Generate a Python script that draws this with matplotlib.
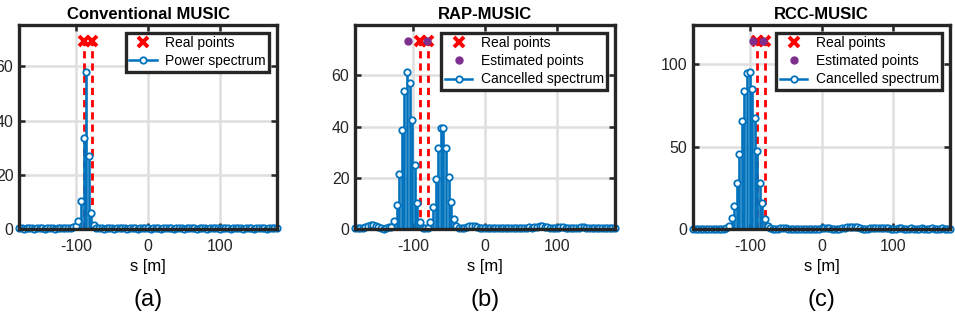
import matplotlib
matplotlib.use("Agg")
import matplotlib.pyplot as plt
from matplotlib.lines import Line2D
import numpy as np

plt.rcParams['font.family'] = ['Liberation Sans', 'DejaVu Sans']
plt.rcParams['axes.unicode_minus'] = False

# sample grid of the search (s in metres)
S_GRID = np.linspace(-180, 180, 101)

# (a) conventional MUSIC power spectrum
A_VALS = ([0.3, 0.2, 0.1, 0.2, 0.3, 0.2, 0.1, 0.2, 0.3, 0.2, 0.1, 0.2, 0.3, 0.2,
           0.1, 0.2, 0.3, 0.2, 0.2, 0.3, 0.4, 0.6]
          + [1.0, 3.1, 10.5, 33.6, 57.9, 27.0, 6.0, 1.5, 0.5]
          + [0.3, 0.2, 0.1, 0.2, 0.3, 0.2, 0.1, 0.2, 0.3, 0.3, 0.2, 0.1, 0.2, 0.3,
             0.2, 0.1, 0.2, 0.3, 0.3, 0.2, 0.1, 0.2, 0.3, 0.2, 0.1, 0.2, 0.3, 0.3,
             0.2, 0.1, 0.2, 0.3, 0.2, 0.1, 0.2, 0.3, 0.3, 0.2, 0.1, 0.2, 0.3, 0.2,
             0.1, 0.2, 0.3, 0.3, 0.2, 0.1, 0.2, 0.3, 0.2, 0.1, 0.2, 0.3, 0.3, 0.2,
             0.1, 0.2, 0.3, 0.2, 0.1, 0.2, 0.3, 0.3, 0.2, 0.1, 0.2, 0.3, 0.2, 0.3])

# (b) RAP-MUSIC cancelled spectrum
B_VALS = ([0.4, 0.3, 0.2, 0.4, 0.8, 1.2, 1.5, 1.5, 1.1, 0.6, 0.2, 0.1, 0.3, 0.6, 0.9]
          + [3.0, 9.5, 21.6, 38.5, 53.8, 61.3, 57.0, 42.7, 24.9, 10.3, 2.6]
          + [0.4, 0.2, 0.5]
          + [2.6, 8.7, 19.6, 31.7, 39.5, 39.5, 31.6, 20.3, 10.4, 4.0, 1.0]
          + [0.3, 0.2, 0.4, 0.8, 1.1, 1.2, 1.0, 0.6, 0.3, 0.2, 0.3, 0.4, 0.5, 0.5,
             0.4, 0.3, 0.2, 0.3, 0.4, 0.5, 0.5, 0.4, 0.3, 0.2, 0.3, 0.4, 0.5, 0.6,
             0.5, 0.7, 0.9, 1.0, 1.0, 0.9, 0.6, 0.3, 0.3, 0.4, 0.5, 0.6, 0.6, 0.5,
             0.4, 0.3, 0.3, 0.4, 0.5, 0.6, 0.6, 0.5, 0.4, 0.3, 0.2, 0.3, 0.4, 0.5,
             0.5, 0.4, 0.3, 0.3, 0.4])

# (c) RCC-MUSIC cancelled spectrum
C_VALS = ([0.2, 0.3, 0.2, 0.1, 0.2, 0.3, 0.2, 0.1, 0.2, 0.3, 0.3, 0.2, 0.3, 0.6]
          + [1.8, 6.5, 14.0, 28.2, 45.7, 65.4, 83.7, 94.5, 95.3, 85.2, 67.5, 47.1,
             28.2, 15.7, 5.9, 1.8]
          + [0.5, 0.3, 0.2, 0.3, 0.4, 0.4, 0.4, 0.3, 0.2, 0.1, 0.2, 0.3, 0.3, 0.2,
             0.1, 0.2, 0.3, 0.3, 0.2, 0.3, 0.4, 0.5, 0.5, 0.4, 0.3, 0.2, 0.2, 0.3,
             0.5, 0.8, 1.1, 1.4, 1.5, 1.3, 1.0, 0.6, 0.3, 0.2, 0.3, 0.4, 0.5, 0.6,
             0.7, 0.8, 0.8, 0.7, 0.5, 0.3, 0.2, 0.3, 0.4, 0.4, 0.3, 0.2, 0.3, 0.4,
             0.3, 0.2, 0.3, 0.4, 0.3, 0.2, 0.3, 0.4, 0.3, 0.2, 0.3, 0.4, 0.3, 0.2,
             0.3])

REAL_POINTS = [-90, -78.5]
EST_POINTS_B = [-106, -80]
EST_POINTS_C = [-96, -82]

TITLES = ["Conventional MUSIC", "RAP-MUSIC", "RCC-MUSIC"]
SPEC_LABELS = ["Power spectrum", "Cancelled spectrum", "Cancelled spectrum"]
PANEL_TAGS = ["(a)", "(b)", "(c)"]
Y_TICKS = [[0, 20, 40, 60], [0, 20, 40, 60], [0, 50, 100]]

BLUE = "#0072BD"
PURPLE = "#7E2F8E"
DARK = "#262626"


def draw_panel(ax, vals, title, spec_label, yticks, est_points=None):
    vals = np.asarray(vals)
    assert len(vals) == len(S_GRID)
    peak = vals.max()
    mark_h = 1.2 * peak

    ax.grid(True, color="#DFDFDF", linewidth=1.8, zorder=0)
    ax.set_axisbelow(True)

    # red dashed guides under the real points
    for p in REAL_POINTS:
        ax.plot([p, p], [0, mark_h], color="red", linestyle=(0, (2.6, 1.8)),
                linewidth=2.0, zorder=2)

    # stem plot
    ax.vlines(S_GRID, 0, vals, color=BLUE, linewidth=1.9, zorder=3)
    ax.plot(S_GRID, vals, "o", color=BLUE, mfc="white", markersize=4.6,
            markeredgewidth=1.3, zorder=4, clip_on=False)

    ax.plot(REAL_POINTS, [mark_h] * len(REAL_POINTS), "x", color="red",
            markersize=6.5, markeredgewidth=2.8, zorder=5)
    handles = [Line2D([], [], marker="x", color="red", linestyle="none",
                      markersize=6.5, markeredgewidth=2.8)]
    labels = ["Real points"]
    if est_points is not None:
        ax.plot(est_points, [mark_h] * len(est_points), ".", color=PURPLE,
                markersize=10, zorder=6)
        handles.append(Line2D([], [], marker=".", color=PURPLE,
                              linestyle="none", markersize=10))
        labels.append("Estimated points")
    handles.append(Line2D([], [], marker="o", color=BLUE, mfc="white",
                          markersize=4.6, markeredgewidth=1.3, linewidth=1.8))
    labels.append(spec_label)

    leg = ax.legend(handles, labels, loc="upper right", fontsize=10,
                    fancybox=False, framealpha=1, edgecolor=DARK,
                    borderaxespad=0.55, handlelength=2.0, handletextpad=0.6,
                    borderpad=0.25, labelspacing=0.3, numpoints=1)
    leg.get_frame().set_linewidth(2.4)
    leg.set_zorder(10)

    ax.set_xlim(-180, 180)
    ax.set_ylim(0, 1.3 * peak)
    ax.set_xticks([-100, 0, 100])
    ax.set_yticks(yticks)
    ax.set_title(title, fontsize=12, fontweight="bold", pad=4)
    ax.set_xlabel("s [m]", fontsize=12, labelpad=4)
    ax.tick_params(direction="in", length=4, width=1.8, top=True, right=True,
                   labelsize=11.5, colors=DARK, pad=7)
    ax.tick_params(axis="y", pad=4)
    for sp in ax.spines.values():
        sp.set_linewidth(2.4)
        sp.set_color(DARK)
        sp.set_zorder(8)


def main():
    fig = plt.figure(figsize=(9.55, 3.18), dpi=100)
    lefts = [19 / 955, 355 / 955, 693 / 955]
    widths = [258 / 955, 260 / 955, 257 / 955]
    bottom = 89 / 318
    height = 204 / 318
    all_vals = [A_VALS, B_VALS, C_VALS]
    all_est = [None, EST_POINTS_B, EST_POINTS_C]

    for i in range(3):
        ax = fig.add_axes([lefts[i], bottom, widths[i], height])
        draw_panel(ax, all_vals[i], TITLES[i], SPEC_LABELS[i], Y_TICKS[i],
                   all_est[i])
        fig.text(lefts[i] + widths[i] / 2, 18 / 318, PANEL_TAGS[i],
                 ha="center", va="center", fontsize=17)

    fig.savefig("out.png", dpi=100)


if __name__ == "__main__":
    main()
